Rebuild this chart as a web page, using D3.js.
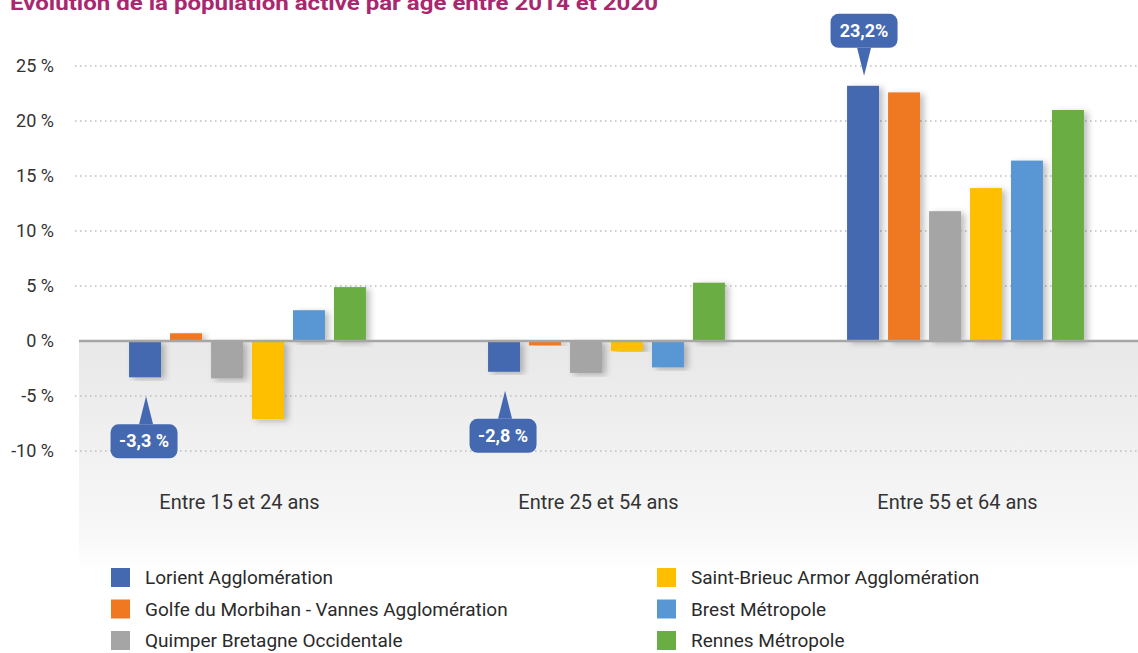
<!DOCTYPE html>
<html>
<head>
<meta charset="utf-8">
<script src="https://cdn.jsdelivr.net/npm/d3@7"></script>
<style>
  body { margin: 0; background: #fff; }
  svg { display: block; font-family: Roboto, "Liberation Sans", sans-serif; }
</style>
</head>
<body>
<div class="chart"></div>
<script>
// data
var categories = ["Entre 15 et 24 ans", "Entre 25 et 54 ans", "Entre 55 et 64 ans"];
var series = [
  "Lorient Agglomération",
  "Golfe du Morbihan - Vannes Agglomération",
  "Quimper Bretagne Occidentale",
  "Saint-Brieuc Armor Agglomération",
  "Brest Métropole",
  "Rennes Métropole"
];
var lorient     = [-3.3, -2.8, 23.2];
var golfe       = [0.7, -0.4, 22.6];
var quimper     = [-3.4, -2.9, 11.8];
var saintBrieuc = [-7.1, -0.9, 13.9];
var brest       = [2.8, -2.4, 16.4];
var rennes      = [4.9, 5.3, 21.0];
var yTicks = [-10, -5, 0, 5, 10, 15, 20, 25];
var callouts = ["-3,3 %", "-2,8 %", "23,2%"];  // labels on the Lorient bars

var colors = ["#4469b1", "#ef7820", "#a5a5a5", "#fdbf00", "#5897d3", "#6aad42"];
var values = [lorient, golfe, quimper, saintBrieuc, brest, rennes];

var svgWidth = 1138;
var svgHeight = 653;
var margin = { top: 66, left: 68 };
var width = 1077;
var height = 385;

var svg = d3.select(".chart")
    .append("svg")
    .attr("width", svgWidth)
    .attr("height", svgHeight);

var defs = svg.append("defs");
var grad = defs.append("linearGradient")
    .attr("id", "bgGrad")
    .attr("x1", 0).attr("y1", 0).attr("x2", 0).attr("y2", 1);
grad.append("stop").attr("offset", "0%").attr("stop-color", "#e8e8e8");
grad.append("stop").attr("offset", "85%").attr("stop-color", "#f8f8f8");
grad.append("stop").attr("offset", "100%").attr("stop-color", "#ffffff");

var shadow = defs.append("filter")
    .attr("id", "shadow")
    .attr("x", "-30%").attr("y", "-10%").attr("width", "160%").attr("height", "120%");
shadow.append("feDropShadow")
    .attr("dx", 4).attr("dy", 2)
    .attr("stdDeviation", 3)
    .attr("flood-color", "#000")
    .attr("flood-opacity", 0.25);

// title, sitting at the very top edge as in the source
svg.append("text")
    .attr("x", 10)
    .attr("y", 10)
    .attr("fill", "#a8286f")
    .attr("font-size", 21)
    .attr("font-weight", "bold")
    .attr("textLength", 648)
    .attr("lengthAdjust", "spacingAndGlyphs")
    .text("Évolution de la population active par âge entre 2014 et 2020");

var chart = svg.append("g")
    .attr("transform", "translate(" + margin.left + "," + margin.top + ")");

var y = d3.scaleLinear().domain([-10, 25]).range([height, 0]);

var x0 = d3.scaleBand().domain(categories).range([0, width]);
var x1 = d3.scaleBand().domain(series).range([0, x0.bandwidth()])
    .paddingInner(0.22).paddingOuter(1.49);

// grey background under zero
chart.append("rect")
    .attr("x", 11)
    .attr("y", y(0))
    .attr("width", width)
    .attr("height", 230)
    .attr("fill", "url(#bgGrad)");

// dotted gridlines
chart.selectAll(".grid")
    .data(yTicks.filter(function(d) { return d !== 0; }))
    .enter()
    .append("line")
    .attr("class", "grid")
    .attr("x1", 7)
    .attr("x2", width)
    .attr("y1", function(d) { return y(d); })
    .attr("y2", function(d) { return y(d); })
    .attr("stroke", "#bdbdbd")
    .attr("stroke-width", 1.3)
    .attr("stroke-dasharray", "1.5,3.5");

// y axis labels
var leftAxis = d3.axisLeft(y)
    .tickValues(yTicks)
    .tickSize(0)
    .tickPadding(0)
    .tickFormat(function(d) { return d + " %"; });

var yAxis = chart.append("g")
    .attr("transform", "translate(-14,0)")
    .call(leftAxis);
yAxis.select(".domain").remove();
yAxis.selectAll("text")
    .attr("font-size", 18)
    .attr("font-family", "Roboto, sans-serif")
    .attr("fill", "#333");

// bars
var groups = chart.selectAll(".group")
    .data(categories)
    .enter()
    .append("g")
    .attr("class", "group")
    .attr("transform", function(d) { return "translate(" + x0(d) + ",0)"; });

groups.selectAll("rect")
    .data(function(d, gi) {
        return series.map(function(s, si) { return { s: s, i: si, v: values[si][gi] }; });
    })
    .enter()
    .append("rect")
    .attr("x", function(d) { return x1(d.s); })
    .attr("y", function(d) { return y(Math.max(0, d.v)); })
    .attr("width", x1.bandwidth())
    .attr("height", function(d) { return Math.abs(y(d.v) - y(0)); })
    .attr("fill", function(d) { return colors[d.i]; })
    .attr("filter", "url(#shadow)");

// zero line
chart.append("line")
    .attr("x1", 11)
    .attr("x2", width)
    .attr("y1", y(0))
    .attr("y2", y(0))
    .attr("stroke", "#a6a6a6")
    .attr("stroke-width", 2.5);

// category labels
chart.selectAll(".cat")
    .data(categories)
    .enter()
    .append("text")
    .attr("class", "cat")
    .attr("x", function(d) { return x0(d) + x0.bandwidth() / 2 - 8; })
    .attr("y", y(-10) + 58)
    .attr("text-anchor", "middle")
    .attr("font-size", 20)
    .attr("fill", "#333")
    .text(function(d) { return d; });

// callouts on the Lorient bars
var boxW = 67, boxH = 34;
categories.forEach(function(c, gi) {
    var v = lorient[gi];
    var cx = x0(c) + x1(series[0]) + x1.bandwidth() / 2 + 1;
    var neg = v < 0;
    var tipY = neg ? y(v) + 19 : y(v) - 10;
    var baseY = neg ? tipY + 28 : tipY - 28;
    var boxY = neg ? baseY : baseY - boxH;
    var boxX = cx - boxW / 2 + (neg ? -2 : 0);
    var g = chart.append("g");
    g.append("rect")
        .attr("x", boxX)
        .attr("y", boxY)
        .attr("width", boxW)
        .attr("height", boxH)
        .attr("rx", 8)
        .attr("fill", colors[0]);
    g.append("path")
        .attr("d", "M" + (cx - 7) + "," + baseY + "L" + cx + "," + tipY + "L" + (cx + 7) + "," + baseY + "Z")
        .attr("fill", colors[0]);
    g.append("text")
        .attr("x", boxX + boxW / 2)
        .attr("y", boxY + boxH / 2 + 6)
        .attr("text-anchor", "middle")
        .attr("font-size", 18)
        .attr("font-weight", "bold")
        .attr("fill", "#fff")
        .text(callouts[gi]);
});

// legend
var legend = svg.selectAll(".legend")
    .data(series)
    .enter()
    .append("g")
    .attr("class", "legend")
    .attr("transform", function(d, i) {
        return "translate(" + (111 + Math.floor(i / 3) * 546) + "," + (568 + (i % 3) * 31.5) + ")";
    });

legend.append("rect")
    .attr("width", 19)
    .attr("height", 19)
    .attr("fill", function(d, i) { return colors[i]; });

legend.append("text")
    .attr("x", 34)
    .attr("y", 16)
    .attr("font-size", 19)
    .attr("fill", "#2a2a2a")
    .text(function(d) { return d; });
</script>
</body>
</html>
